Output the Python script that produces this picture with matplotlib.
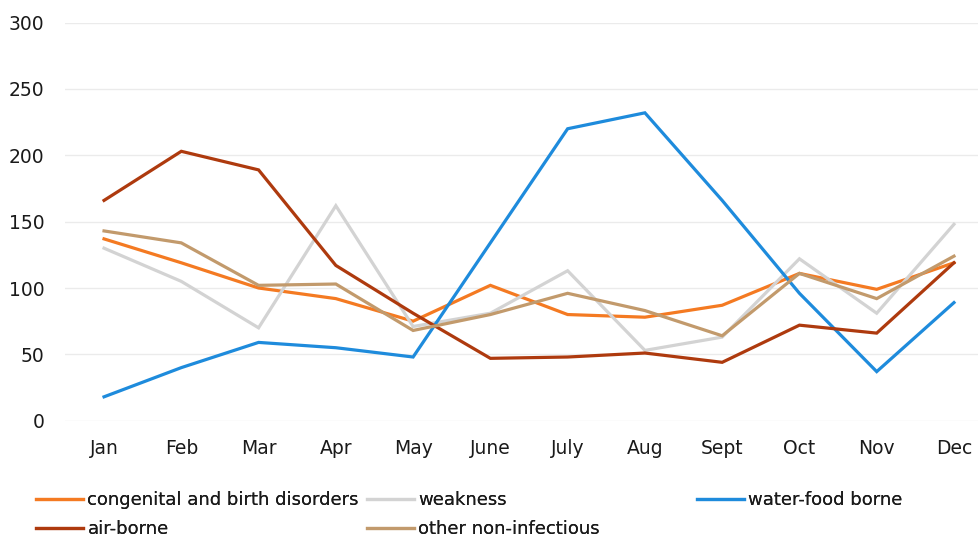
import matplotlib
matplotlib.use("Agg")
import matplotlib.pyplot as plt
import numpy as np

months = ["Jan", "Feb", "Mar", "Apr", "May", "June", "July", "Aug", "Sept", "Oct", "Nov", "Dec"]

congenital = [137, 119, 100, 92, 75, 102, 80, 78, 87, 111, 99, 119]
weakness = [130, 105, 70, 162, 71, 81, 113, 53, 63, 122, 81, 148]
water_food = [18, 40, 59, 55, 48, 134, 220, 232, 166, 96, 37, 89]
air_borne = [166, 203, 189, 117, 81, 47, 48, 51, 44, 72, 66, 119]
other_noninf = [143, 134, 102, 103, 68, 80, 96, 83, 64, 111, 92, 124]

series = [
    ("congenital and birth disorders", congenital, "#F47A22"),
    ("weakness", weakness, "#D3D3D3"),
    ("water-food borne", water_food, "#1E8BDC"),
    ("air-borne", air_borne, "#AE3A0E"),
    ("other non-infectious", other_noninf, "#C29A6C"),
]

plt.rcParams["font.family"] = ["DejaVu Sans"]

fig = plt.figure(figsize=(9.79, 5.40), dpi=100)
ax = fig.add_axes([0.0668, 0.2209, 0.9471, 0.7373])

x = np.arange(len(months))
handles = []
for label, vals, color in series:
    h, = ax.plot(x, vals, color=color, lw=2.3, label=label, solid_joinstyle="miter")
    handles.append(h)

ax.set_xlim(-0.5, len(months) - 0.5)
ax.set_ylim(0, 300)
ax.set_yticks(np.arange(0, 301, 50))
ax.set_xticks(x)
ax.set_xticklabels(months)
ax.grid(axis="y", color="#EBEBEB", lw=1)
ax.set_axisbelow(True)
for s in ax.spines.values():
    s.set_visible(False)
ax.tick_params(axis="both", length=0, labelsize=13.5, colors="#1a1a1a")
ax.tick_params(axis="y", pad=15)
ax.tick_params(axis="x", pad=13)

# legend laid out as three fixed-width columns
columns = [([0, 3], 36), ([1, 4], 367), ([2], 697)]
for idx, xpix in columns:
    leg = fig.legend([handles[i] for i in idx], [series[i][0] for i in idx],
                     loc="upper left", bbox_to_anchor=(xpix / 979, 1 - 491 / 540),
                     frameon=False, fontsize=13, handlelength=2.6,
                     handletextpad=0.25, labelspacing=0.62,
                     borderpad=0, borderaxespad=0)
    for t in leg.get_texts():
        t.set_color("#1a1a1a")
    fig.add_artist(leg)

fig.savefig("out.png", dpi=100)
